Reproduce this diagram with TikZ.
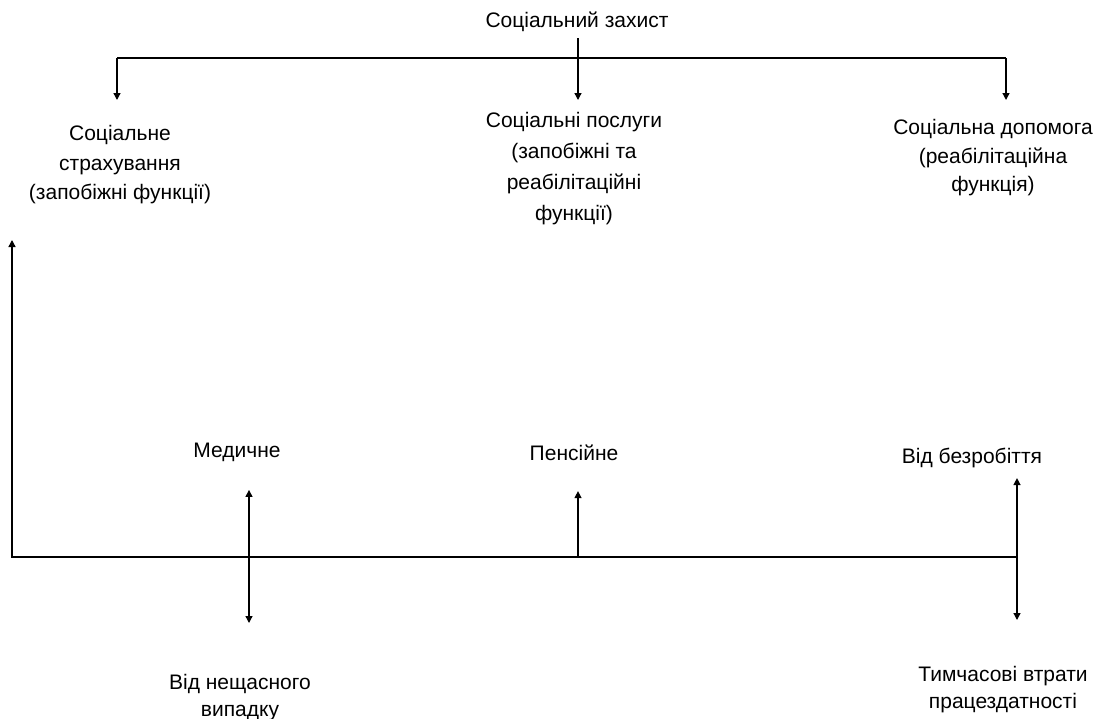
\documentclass[tikz,border=0pt]{standalone}
\usepackage{fontspec}
\setmainfont{Liberation Sans}
\usetikzlibrary{arrows.meta,calc}

\begin{document}
\begin{tikzpicture}[x=1pt, y=-1pt, >={Triangle[length=7pt,width=7pt]}, line width=1.3pt,
  lbl/.style={align=center, anchor=north, inner sep=0pt, font=\fontsize{21}{30.5}\selectfont},
  lbllow/.style={lbl, font=\fontsize{21}{27}\selectfont}]
  \useasboundingbox (0,0) rectangle (1100,718);

  % top part
  \node[lbl] (zakhyst) at (577,11) {Соціальний захист};
  \node[lbl, font=\fontsize{21}{29.5}\selectfont] (strakh) at (120,125) {Соціальне\\страхування\\(запобіжні функції)};
  \node[lbl, font=\fontsize{21}{31}\selectfont] (poslugy) at (574,112) {Соціальні послуги\\(запобіжні та\\реабілітаційні\\функції)};
  \node[lbl, font=\fontsize{21}{28.5}\selectfont] (dopomoga) at (993,119) {Соціальна допомога\\(реабілітаційна\\функція)};

  \coordinate (TL) at (117,58);
  \coordinate (TR) at (1006,58);
  \coordinate (TM) at (578,58);

  \draw (TL) -- (TR);
  \draw[shorten <=6pt] (zakhyst.south -| TM) -- (TM);
  \draw[->, shorten >=12pt] (TM) -- (TM |- poslugy.north);
  \draw[->, shorten >=25pt] (TL) -- (TL |- strakh.north);
  \draw[->, shorten >=19pt] (TR) -- (TR |- dopomoga.north);

  % bottom part
  \node[lbl] (medychne) at (237,442) {Медичне};
  \node[lbl] (pensiine) at (574,444) {Пенсійне};
  \node[lbl] (bezrob) at (972,447) {Від безробіття};
  \node[lbllow] (neshch) at (240,674) {Від нещасного\\випадку};
  \node[lbllow] (tymch) at (1003,666) {Тимчасові втрати\\працездатності};

  \coordinate (BL) at (12,557);
  \coordinate (BR) at (1017,557);
  \coordinate (up) at (12,240);
  \coordinate (M) at (249,557);
  \coordinate (P) at (578,557);

  \draw[->] (BR) -- (BL) -- (up);
  \draw[->, shorten >=28pt] (M) -- (M |- medychne.south);
  \draw[->, shorten >=51pt] (M) -- (M |- neshch.north);
  \draw[->, shorten >=30pt] (P) -- (P |- pensiine.south);
  \draw[->, shorten >=10pt] (BR) -- (BR |- bezrob.south);
  \draw[->, shorten >=46pt] (BR) -- (BR |- tymch.north);
\end{tikzpicture}
\end{document}
